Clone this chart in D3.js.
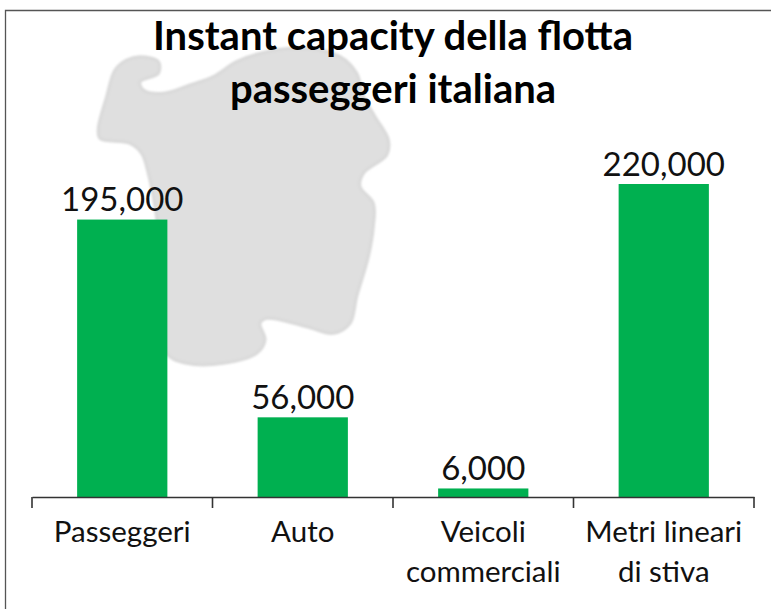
<!DOCTYPE html>
<html><head><meta charset="utf-8">
<script src="https://cdn.jsdelivr.net/npm/d3@7"></script>
<style>
html,body{margin:0;padding:0;background:#fff}
svg{display:block}
text{font-family:Lato,"Open Sans",sans-serif;fill:#111}
</style></head><body>
<svg id="c" width="771" height="609"></svg>
<script>
const categories = ["Passeggeri","Auto","Veicoli commerciali","Metri lineari di stiva"];
const categoryLines = [["Passeggeri"],["Auto"],["Veicoli","commerciali"],["Metri lineari","di stiva"]];
const values = [195000,56000,6000,220000];
const valueLabels = ["195,000","56,000","6,000","220,000"];
const titleLines = ["Instant capacity della flotta","passeggeri italiana"];
const silhouette = [[180,50],[235,65],[235,100],[180,125],[190,150],[250,160],[330,135],[400,110],[470,65],[560,35],[680,25],[780,50],[830,100],[850,170],[885,230],[925,300],[920,345],[850,400],[840,440],[880,490],[880,560],[865,650],[830,770],[810,850],[760,880],[680,860],[560,835],[540,850],[555,900],[530,940],[430,970],[320,970],[260,940],[240,800],[240,620],[225,500],[205,400],[185,340],[150,310],[60,295],[55,265],[80,170],[105,90],[140,60]];

const svg = d3.select("#c");
const defs = svg.append("defs");
defs.append("filter").attr("id","soft").append("feGaussianBlur").attr("stdDeviation",1.2);

const x = d3.scaleBand().domain(categories).range([32,754]).paddingInner(0.5).paddingOuter(0.25);
const y = d3.scaleLinear().domain([0,220000]).range([497,184]);

// frame
svg.append("path").attr("d","M5.5,609V10.5H771").attr("fill","none").attr("stroke","#555").attr("stroke-width",1.3);

// watermark
const sx = d3.scaleLinear().domain([0,1020]).range([80,420]);
const sy = d3.scaleLinear().domain([0,1020]).range([40,380]);
svg.append("path").datum(silhouette)
  .attr("d",d3.line().x(d=>sx(d[0])).y(d=>sy(d[1])).curve(d3.curveCatmullRomClosed.alpha(0.5)))
  .attr("fill","#dfdfdf").attr("stroke","#d9d9d9").attr("stroke-width",3).attr("stroke-linejoin","round")
  .attr("filter","url(#soft)");

// title
svg.append("g").selectAll("text").data(titleLines).join("text")
  .attr("x",393).attr("y",(d,i)=>50+i*53).attr("text-anchor","middle")
  .attr("font-size",40).attr("font-weight",700).style("fill","#000").text(d=>d);

// bars
svg.append("g").selectAll("rect").data(values).join("rect")
  .attr("x",(d,i)=>x(categories[i])).attr("width",x.bandwidth())
  .attr("y",d=>y(d)).attr("height",d=>y(0)-y(d)).attr("fill","#00b050");

// value labels
svg.append("g").selectAll("text").data(values).join("text")
  .attr("x",(d,i)=>x(categories[i])+x.bandwidth()/2).attr("y",d=>y(d)-8.5)
  .attr("text-anchor","middle").attr("font-size",33).text((d,i)=>valueLabels[i]);

// axis
const axis = svg.append("g").attr("transform","translate(0,497)");
axis.call(d3.axisBottom(x).tickSize(0).tickFormat(""));
axis.select(".domain").attr("stroke","#333").attr("stroke-width",1.6);
axis.selectAll(".tick").remove();
const edges = categories.map(c=>x(c)-x.step()*0.25).concat([x.range()[1]]);
axis.selectAll("line.t").data(edges).join("line").attr("class","t")
  .attr("x1",d=>d).attr("x2",d=>d).attr("y1",0).attr("y2",11)
  .attr("stroke","#333").attr("stroke-width",1.6);

const labels = svg.append("g").selectAll("text").data(categories).join("text")
  .attr("text-anchor","middle").attr("font-size",29.5);
labels.each(function(c,i){
  d3.select(this).selectAll("tspan").data(categoryLines[i]).join("tspan")
    .attr("x",x(c)+x.bandwidth()/2).attr("y",(d,j)=>542+j*40).text(d=>d);
});
</script></body></html>
